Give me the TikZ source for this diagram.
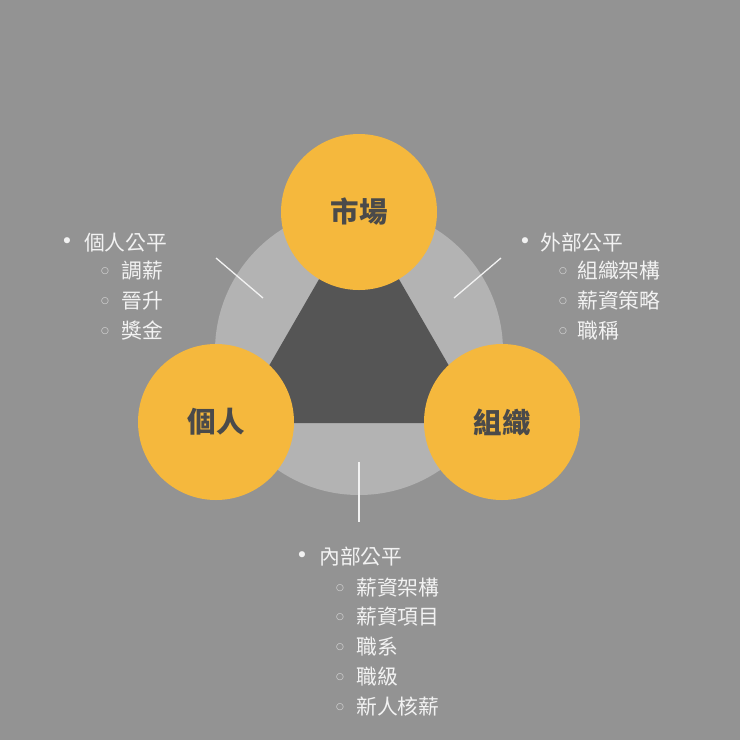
\documentclass[tikz,border=0pt]{standalone}
\usepackage{fontspec}
\newfontfamily\cjk{Noto Sans CJK TC}
\newfontfamily\sym{DejaVu Sans}
\definecolor{bg}{HTML}{939393}
\definecolor{ring}{HTML}{B3B3B3}
\definecolor{tri}{HTML}{555555}
\definecolor{gold}{HTML}{F5B83D}
\definecolor{lbl}{HTML}{4A4A4A}
\definecolor{txt}{HTML}{F2F2F2}
\begin{document}
\begin{tikzpicture}[x=1pt,y=-1pt,
  ball/.style={circle,fill=gold,minimum size=156pt,inner sep=0pt,text=lbl,font=\cjk\bfseries\fontsize{28.5}{32}\selectfont},
  item/.style={anchor=west,inner sep=0pt,text=txt,font=\cjk\fontsize{20.8}{24}\selectfont},
  dot/.style={anchor=center,inner sep=0pt,text=txt,font=\sym\fontsize{21}{24}\selectfont},
  sdot/.style={anchor=center,inner sep=0pt,text=txt!80!bg,font=\sym\fontsize{9}{11}\selectfont},
  tick/.style={draw=txt,line width=1.3pt}]
\fill[bg] (0,0) rectangle (740,740);
\useasboundingbox (0,0) rectangle (740,740);
\fill[ring] (359,351) circle[radius=144];
\fill[tri] (359,210) -- (236,423) -- (482,423) -- cycle;
\node[ball] (market) at (359,212) {市場};
\node[ball] (person) at (216,422) {個人};
\node[ball] (org) at (502,422) {組織};
% ticks
\coordinate (l1) at (216,258); \coordinate (l2) at (263,298);
\coordinate (r1) at (501,258); \coordinate (r2) at (454,298);
\coordinate (b1) at (359,462); \coordinate (b2) at (359,522);
\draw[tick] (l1) -- (l2);
\draw[tick] (r1) -- (r2);
\draw[tick] (b1) -- (b2);
% left list
\node[dot] (lb) at (67,243) {•};
\node[item] (lh) at (84,243) {個人公平};
\node[sdot] (ls1) at (105,271) {○};
\node[item] (lt1) at (121,271) {調薪};
\node[sdot] (ls2) at (105,301) {○};
\node[item] (lt2) at (121,301) {晉升};
\node[sdot] (ls3) at (105,331) {○};
\node[item] (lt3) at (121,331) {獎金};
% right list
\node[dot] (rb) at (525,243) {•};
\node[item] (rh) at (540,243) {外部公平};
\node[sdot] (rs1) at (563,271) {○};
\node[item] (rt1) at (577,271) {組織架構};
\node[sdot] (rs2) at (563,301) {○};
\node[item] (rt2) at (577,301) {薪資策略};
\node[sdot] (rs3) at (563,331) {○};
\node[item] (rt3) at (577,331) {職稱};
% bottom list
\node[dot] (bb) at (302,557) {•};
\node[item] (bh) at (319,557) {內部公平};
\node[sdot] (bs1) at (340,588) {○};
\node[item] (bt1) at (356,588) {薪資架構};
\node[sdot] (bs2) at (340,617) {○};
\node[item] (bt2) at (356,617) {薪資項目};
\node[sdot] (bs3) at (340,647) {○};
\node[item] (bt3) at (356,647) {職系};
\node[sdot] (bs4) at (340,677) {○};
\node[item] (bt4) at (356,677) {職級};
\node[sdot] (bs5) at (340,707) {○};
\node[item] (bt5) at (356,707) {新人核薪};
\end{tikzpicture}
\end{document}
